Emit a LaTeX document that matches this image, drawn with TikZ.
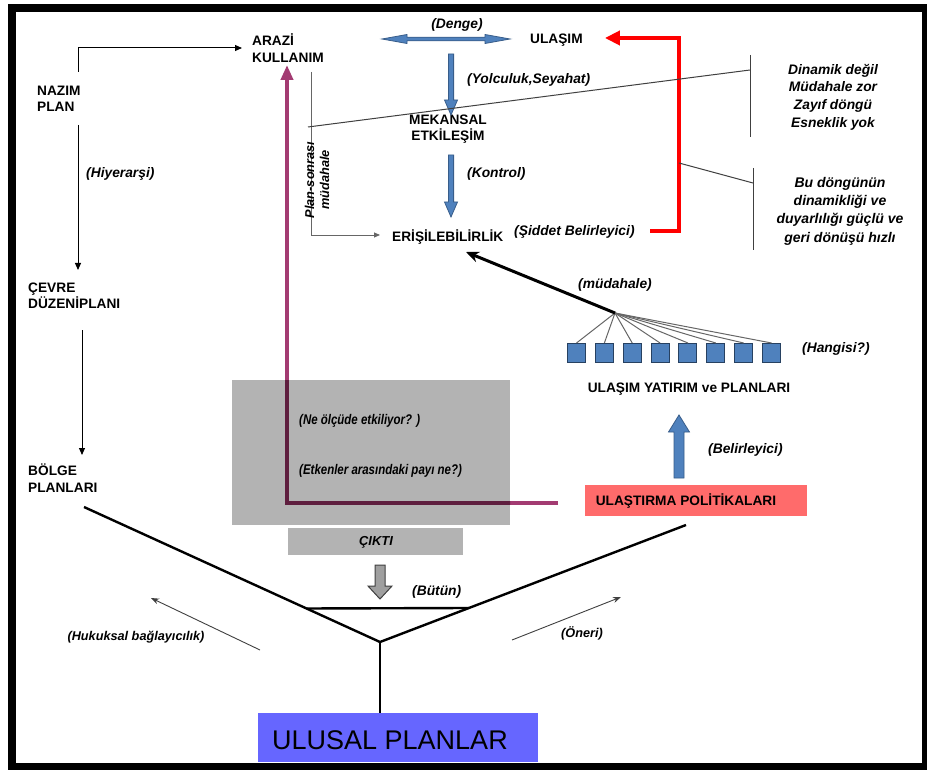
\documentclass[tikz,border=0pt]{standalone}
\usepackage{fontspec}
\setmainfont{Liberation Sans}
\newfontfamily\narrowfont{Liberation Sans}[FakeStretch=0.82]
\usetikzlibrary{arrows.meta,calc}
\definecolor{bluefill}{HTML}{4F81BD}
\definecolor{blueline}{HTML}{385D8A}
\definecolor{boxgrey}{HTML}{B3B3B3}
\definecolor{purp}{HTML}{A33B72}
\definecolor{purpdark}{HTML}{5E1E3E}
\definecolor{polred}{HTML}{FF6B6B}
\definecolor{ulusalblue}{HTML}{6666FF}
\definecolor{thingrey}{HTML}{404040}
\newcommand{\vblockarrow}[7][]{%
  \draw[#1] (#2-#6,#3) -- (#2-#6,#4) -- (#2-#7,#4) -- (#2,#5) -- (#2+#7,#4) -- (#2+#6,#4) -- (#2+#6,#3) -- cycle;}
\begin{document}
\begin{tikzpicture}[x=1pt,y=-1pt,
  lbl/.style={font=\fontsize{13.7}{16.5}\selectfont\bfseries, inner sep=0pt, align=left, text=black},
  itl/.style={font=\fontsize{13.8}{16.5}\selectfont\bfseries\itshape, inner sep=0pt, text=black},
  boxtxt/.style={font=\narrowfont\fontsize{14}{16}\selectfont\bfseries\itshape, inner sep=0pt},
  thinarrow/.style={line width=1, black, -{Triangle[length=7pt,width=6pt]}},
  greyarrow/.style={line width=0.9, thingrey, -{Stealth[length=8pt,width=6pt]}},
  bluearrow/.style={fill=bluefill, draw=blueline, line width=0.8},
  sq/.style={draw=blueline!70!black, fill=bluefill, line width=1, minimum width=18pt, minimum height=19pt, inner sep=0pt},
  fan/.style={thingrey!80, line width=1},
  vline/.style={black, line width=2.4},
  bracket/.style={thingrey, line width=1}]
\useasboundingbox (0,0) rectangle (927,770);
\fill[white] (0,0) rectangle (927,770);
\draw[line width=8, black] (12,8) rectangle (926,767);

% ---- left column ----
\node[lbl, anchor=west] (arazi) at (252,48) {ARAZİ\\KULLANIM};
\node[lbl, anchor=west] (nazim) at (37,99) {NAZIM\\PLAN};
\node[lbl, anchor=west] (cevre) at (28,296) {ÇEVRE\\DÜZENİPLANI};
\node[lbl, anchor=west] (bolge) at (28,478) {BÖLGE\\PLANLARI};
\node[itl, anchor=west] (hiyer) at (86,174) {(Hiyerarşi)};

\coordinate (n1) at (78,72);
\coordinate (n2) at (78,125);
\coordinate (n3) at (78,270);
\coordinate (c1) at (82,330);
\coordinate (c2) at (82,455);
\draw[thinarrow] (n1) |- ([xshift=-10pt]arazi.west);
\draw[thinarrow] (n2) -- (n3);
\draw[thinarrow] (c1) -- (c2);

% ---- top chain ----
\node[itl] (denge) at (457,25) {(Denge)};
\node[lbl, anchor=west] (ulasim) at (530,40) {ULAŞIM};
\node[lbl, align=center] (mekansal) at (448,129) {MEKANSAL\\ETKİLEŞİM};
\node[itl, anchor=west] (yolc) at (467,80) {(Yolculuk,Seyahat)};
\node[itl, anchor=west] (kontrol) at (467,174) {(Kontrol)};
\node[lbl, anchor=west] (erisil) at (392,237) {ERİŞİLEBİLİRLİK};
\node[itl, anchor=west] (siddet) at (514,232) {(Şiddet Belirleyici)};

% double blue arrow
\draw[bluearrow] (382,39) -- (407,34.5) -- (407,37.2) -- (485,37.2) -- (485,34.5) -- (510,39) -- (485,43.5) -- (485,40.8) -- (407,40.8) -- (407,43.5) -- cycle;
% down blue arrows
\vblockarrow[bluearrow]{451}{54}{100}{115}{2.6}{6.5}
\vblockarrow[bluearrow]{451}{155}{202}{217}{2.6}{6.5}

% red feedback
\coordinate (r1) at (650,231);
\coordinate (r2) at (679,38);
\coordinate (rtip) at ([xshift=22pt]ulasim.east);
\draw[red, line width=4.5, line join=miter, -{Triangle[length=15pt,width=14pt]}] (r1) -| (r2) -- (rtip |- r2);

% plan-sonrasi
\coordinate (p1) at (311,72);
\coordinate (p2) at (311,235);
\draw[thingrey!80, line width=0.8, -{Triangle[length=6pt,width=5pt]}] (p1) -- (p2) -- ([xshift=-12pt]erisil.west |- p2);
\node[itl, rotate=90, align=center, font=\fontsize{12.8}{15}\selectfont\bfseries\itshape] (plansonra) at (317,180) {Plan-sonrası\\müdahale};

% brackets and texts on right
\coordinate (l1) at (308,127);
\coordinate (b1) at (750,70);
\draw[bracket] (l1) -- (b1);
\draw[bracket] (750,55) -- (750,137);
\coordinate (l2) at (679,163);
\coordinate (b2) at (753,183);
\draw[bracket] (l2) -- (b2);
\draw[bracket] (753,168) -- (753,250);
\node[itl, align=center, font=\fontsize{13.8}{17.7}\selectfont\bfseries\itshape] (dinamik) at (833,97) {Dinamik değil\\Müdahale zor\\Zayıf döngü\\Esneklik yok};
\node[itl, align=center, font=\fontsize{14}{18.3}\selectfont\bfseries\itshape] (budongu) at (840,211) {Bu döngünün\\dinamikliği ve\\duyarlılığı güçlü ve\\geri dönüşü hızlı};

% ---- transport investments ----
\coordinate (apex) at (615,313);
\foreach \i in {0,...,7} {
  \node[sq] (s\i) at ({576.5+27.86*\i},353) {};
  \draw[fan] (apex) -- (s\i.north);
}
\coordinate (etip) at (466,252);
\draw[black, line width=3, -{Stealth[length=13pt,width=11pt]}] (apex) -- (etip);
\node[itl, anchor=west] (mudah) at (578,285) {(müdahale)};
\node[itl, anchor=west] (hangisi) at (802,349) {(Hangisi?)};
\node[lbl] (ulyat) at (689,389) {ULAŞIM YATIRIM ve PLANLARI};
\vblockarrow[bluearrow]{679}{478}{432}{415}{5}{10.5}
\node[itl, anchor=west] (belir) at (708,450) {(Belirleyici)};
\fill[polred] (585,485) rectangle (807,516);
\node[lbl] (ulpol) at (686,501) {ULAŞTIRMA POLİTİKALARI};

% ---- grey area ----
\fill[boxgrey] (232,380) rectangle (510,525);
\coordinate (pm1) at (558,503);
\coordinate (pm2) at (287,65);
\draw[purp, line width=4, line join=miter, -{Triangle[length=15pt,width=12pt]}] (pm1) -| (pm2);
\begin{scope}
  \clip (232,380) rectangle (510,525);
  \draw[purpdark, line width=4.2, line join=miter] (pm1) -| (287,300);
\end{scope}
\node[boxtxt, anchor=west] (ne) at (299,421) {(Ne ölçüde etkiliyor? )};
\node[boxtxt, anchor=west] (etk) at (299,471) {(Etkenler arasındaki payı ne?)};
\fill[boxgrey] (288,528) rectangle (463,555);
\node[itl, font=\fontsize{13}{15}\selectfont\bfseries\itshape] (cikti) at (376,542) {ÇIKTI};
\vblockarrow[fill=gray!75, draw=thingrey, line width=1]{380}{565}{586}{599}{5}{12}
\node[itl, anchor=west] (butun) at (412,592) {(Bütün)};

% ---- V ----
\coordinate (vleft) at (84,507);
\coordinate (vright) at (686,525);
\coordinate (vapex) at (380,642);
\draw[vline, line join=miter] (vleft) -- (vapex) -- (vright);
\coordinate (bl) at ($(vapex)!0.2482!(vleft)$);
\coordinate (br) at ($(vapex)!0.2906!(vright)$);
\draw[vline] (bl) -- (br);
\node[fill=ulusalblue, minimum width=280pt, minimum height=49pt, inner sep=0pt] (ulusal) at (398,737.5) {};
\node[font=\fontsize{27}{30}\selectfont, inner sep=0pt] (ulusaltxt) at (390,740) {ULUSAL PLANLAR};
\draw[black, line width=1.5] (vapex) -- (ulusal.north -| vapex);

\coordinate (h1) at (260,650);
\coordinate (h2) at (151,598);
\draw[greyarrow] (h1) -- (h2);
\node[itl, font=\fontsize{12.7}{14}\selectfont\bfseries\itshape] (hukuk) at (136,637) {(Hukuksal bağlayıcılık)};
\coordinate (o1) at (512,640);
\coordinate (o2) at (621,597);
\draw[greyarrow] (o1) -- (o2);
\node[itl, font=\fontsize{12.7}{14}\selectfont\bfseries\itshape] (oneri) at (582,633) {(Öneri)};
\end{tikzpicture}
\end{document}
